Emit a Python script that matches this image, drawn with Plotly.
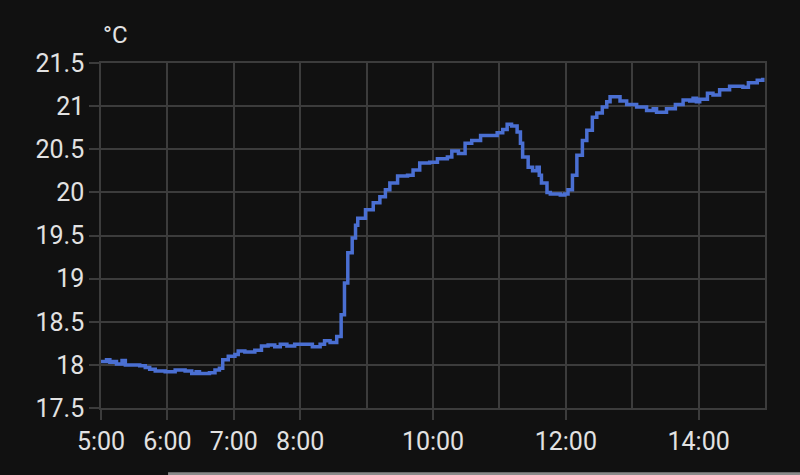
import plotly.graph_objects as go

# temperature readings (time of day, °C)
times = [
    "05:00", "05:04", "05:05", "05:08", "05:11", "05:14", "05:19", "05:22", "05:35", "05:40",
    "05:44", "05:49", "05:58", "06:07", "06:16", "06:22", "06:26", "06:29", "06:38", "06:43",
    "06:47", "06:50", "06:55", "07:01", "07:04", "07:10", "07:19", "07:25", "07:31", "07:37",
    "07:42", "07:48", "07:55", "08:04", "08:11", "08:18", "08:22", "08:27", "08:33", "08:37",
    "08:40", "08:43", "08:47", "08:50", "08:52", "08:59", "09:06", "09:12", "09:17", "09:21",
    "09:28", "09:37", "09:42", "09:48", "09:57", "10:04", "10:13", "10:17", "10:23", "10:29",
    "10:35", "10:43", "10:58", "11:03", "11:07", "11:11", "11:16", "11:19", "11:21", "11:26",
    "11:30", "11:34", "11:36", "11:38", "11:43", "11:46", "11:55", "11:59", "12:02", "12:06",
    "12:10", "12:15", "12:19", "12:24", "12:28", "12:33", "12:37", "12:40", "12:46", "12:49",
    "12:55", "13:04", "13:13", "13:19", "13:22", "13:31", "13:39", "13:46", "13:52", "13:55",
    "13:58", "14:01", "14:08", "14:13", "14:19", "14:28", "14:40", "14:45", "14:53", "14:58",
]
temps = [
    18.04, 18.04, 18.06, 18.03, 18.04, 18.01, 18.05, 18.00, 17.99, 17.97,
    17.95, 17.93, 17.92, 17.94, 17.93, 17.90, 17.92, 17.90, 17.91, 17.94,
    17.96, 18.06, 18.10, 18.12, 18.16, 18.15, 18.17, 18.22, 18.23, 18.21,
    18.24, 18.22, 18.24, 18.24, 18.21, 18.24, 18.28, 18.26, 18.33, 18.58,
    18.95, 19.30, 19.47, 19.62, 19.70, 19.80, 19.88, 19.95, 20.03, 20.11,
    20.19, 20.20, 20.26, 20.34, 20.35, 20.39, 20.41, 20.48, 20.45, 20.57,
    20.60, 20.66, 20.69, 20.73, 20.79, 20.77, 20.70, 20.57, 20.41, 20.29,
    20.25, 20.29, 20.20, 20.11, 20.00, 19.98, 19.97, 19.98, 20.03, 20.20,
    20.43, 20.60, 20.72, 20.87, 20.92, 20.99, 21.05, 21.11, 21.11, 21.06,
    21.02, 20.99, 20.95, 20.97, 20.93, 20.97, 21.02, 21.07, 21.06, 21.09,
    21.05, 21.08, 21.15, 21.13, 21.19, 21.23, 21.22, 21.27, 21.30, 21.33,
]

day = "2024-01-01 "
x_vals = [day + t for t in times]

tick_hours = ["05:00", "06:00", "07:00", "08:00", "10:00", "12:00", "14:00"]
tick_text = ["5:00", "6:00", "7:00", "8:00", "10:00", "12:00", "14:00"]

bg = "#111111"
grid = "#3c3c3c"
txt = "#e2e2e2"

fig = go.Figure()
fig.add_trace(go.Scatter(
    x=x_vals, y=temps, mode="lines", line_shape="hv",
    line=dict(color="#4a6fd2", width=3.5), showlegend=False,
))

fig.update_layout(
    width=800, height=475,
    paper_bgcolor=bg, plot_bgcolor=bg,
    margin=dict(l=101, r=35, t=63, b=67),
    font=dict(family="Roboto", size=25, color=txt),
)

fig.update_xaxes(
    range=[day + "05:00", day + "15:00"],
    tickvals=[day + t for t in tick_hours], ticktext=tick_text,
    showgrid=True, gridcolor=grid, gridwidth=1.5,
    ticks="outside", ticklen=10, tickcolor=grid, tickwidth=1.5,
    minor=dict(dtick=3600000, showgrid=True, gridcolor=grid, gridwidth=1.5),
    showline=True, mirror=True, linecolor=grid, linewidth=1.5,
    zeroline=False,
)
fig.update_yaxes(
    range=[17.5, 21.5], dtick=0.5,
    showgrid=True, gridcolor=grid, gridwidth=1.5,
    ticks="outside", ticklen=10, tickcolor=grid, tickwidth=1.5,
    showline=True, mirror=True, linecolor=grid, linewidth=1.5,
    zeroline=False,
)

# unit label above the y axis
fig.add_annotation(text="°C", xref="paper", yref="paper", x=0, y=1,
                   xanchor="left", yanchor="bottom", yshift=12, showarrow=False,
                   font=dict(size=24, color=txt))

# grey bar at the bottom edge of the screenshot
fig.add_shape(type="rect", xref="paper", yref="paper", x0=0.101, x1=1.06, y0=-0.195, y1=-0.186,
              fillcolor="#8a8a8a", line_width=0)

fig.write_html("out.html", config={"displayModeBar": False},
               post_script="document.body.style.margin='0';document.body.style.background='#111111';")
